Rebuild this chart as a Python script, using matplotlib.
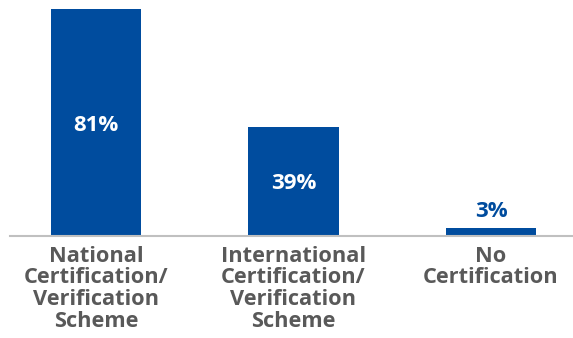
import matplotlib.pyplot as plt

categories = ['National\nCertification/\nVerification\nScheme',
              'International\nCertification/\nVerification\nScheme',
              'No\nCertification']
values = [81, 39, 3]
labels = ['81%', '39%', '3%']

blue = '#004C9E'
grey = '#595959'

plt.rcParams['font.family'] = ['Open Sans', 'DejaVu Sans']

fig = plt.figure(figsize=(5.73, 3.38), dpi=100)
ax = fig.add_axes([10 / 573, 102 / 338, 563 / 573, 236 / 338])

x = range(len(values))
ax.bar(x, values, width=0.456, color=blue)

for i, v in enumerate(values):
    if v > 10:
        ax.text(i, v / 2, labels[i], ha='center', va='center_baseline', color='white',
                fontsize=16, fontweight='bold')
    else:
        ax.annotate(labels[i], (i, v), xytext=(0, 4), textcoords='offset points',
                    ha='center', va='bottom', color=blue, fontsize=16, fontweight='bold')

ax.set_xlim(-0.435, 2.415)
ax.set_ylim(0, 84.3)
ax.set_xticks(list(x))
ax.set_xticklabels(categories, fontsize=15.7, fontweight='bold', color=grey,
                   linespacing=1.04, va='top')
ax.tick_params(axis='x', length=0, pad=7)
ax.set_yticks([])
for s in ['top', 'right', 'left']:
    ax.spines[s].set_visible(False)
ax.spines['bottom'].set_color('#c0c0c0')
ax.spines['bottom'].set_linewidth(1.5)

fig.savefig('out.png', dpi=100)
